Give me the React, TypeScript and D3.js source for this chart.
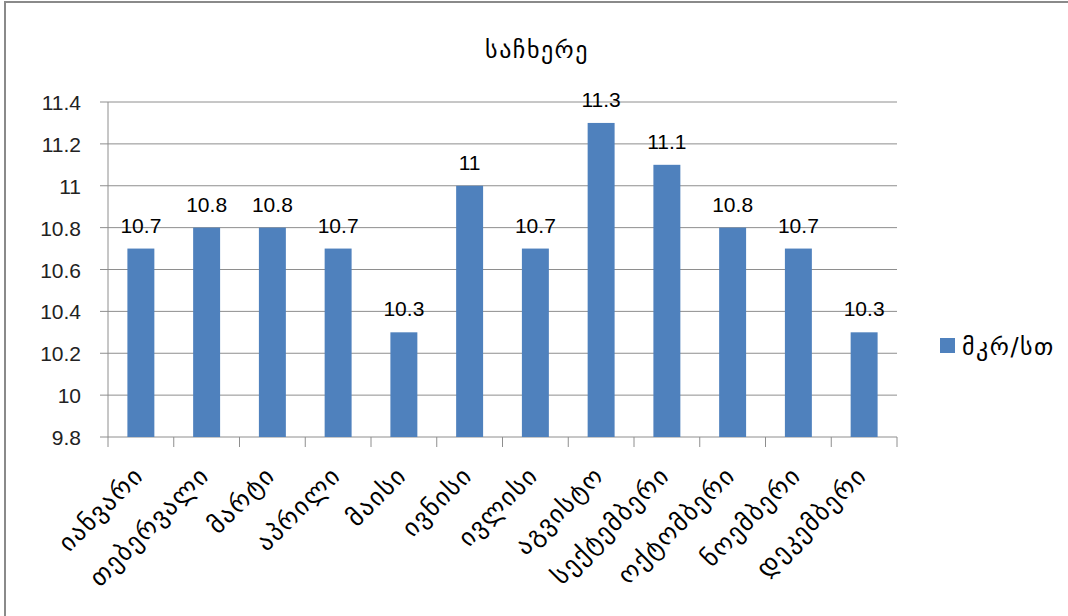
import React from "react";
import * as d3 from "d3";

const months = [
  "იანვარი",
  "თებერვალი",
  "მარტი",
  "აპრილი",
  "მაისი",
  "ივნისი",
  "ივლისი",
  "აგვისტო",
  "სექტემბერი",
  "ოქტომბერი",
  "ნოემბერი",
  "დეკემბერი",
];
const values = [10.7, 10.8, 10.8, 10.7, 10.3, 11, 10.7, 11.3, 11.1, 10.8, 10.7, 10.3];
const yTicks = [9.8, 10, 10.2, 10.4, 10.6, 10.8, 11, 11.2, 11.4];
const title = "საჩხერე";
const seriesName = "მკრ/სთ";

const W = 1068;
const H = 616;
const plot = { left: 108, right: 897, top: 102, bottom: 437 };
const barColor = "#4F81BD";
const gridColor = "#8e8e8e";
const numFont = "'Liberation Sans', Arial, sans-serif";
const geoFont = "'DejaVu Sans', sans-serif";

const App: React.FC = () => {
  const x = d3
    .scaleBand<string>()
    .domain(months)
    .range([plot.left, plot.right])
    .paddingInner(0.59)
    .paddingOuter(0.295);
  const band = d3.scaleBand<string>().domain(months).range([plot.left, plot.right]);
  const y = d3.scaleLinear().domain([9.8, 11.4]).range([plot.bottom, plot.top]);
  const fmt = (v: number) => String(+v.toFixed(1));

  return (
    <svg
      width={W}
      height={H}
      style={{ position: "absolute", left: 0, top: 0, background: "#fff" }}
    >
      <rect x={5} y={2} width={W + 20} height={H + 20} fill="#fff" stroke="#8a8a8a" strokeWidth={2} />
      <text
        x={537}
        y={58}
        textAnchor="middle"
        fontFamily={geoFont}
        fontSize={24}
        letterSpacing={1.5}
        fill="#000"
      >
        {title}
      </text>

      {/* gridlines and y axis */}
      {yTicks.map((t) => (
        <g key={t}>
          <line x1={plot.left - 8} x2={plot.right} y1={y(t)} y2={y(t)} stroke={gridColor} strokeWidth={1} />
          <text
            x={81}
            y={y(t) + 8}
            textAnchor="end"
            fontFamily={numFont}
            fontSize={21}
            fill="#222"
          >
            {fmt(t)}
          </text>
        </g>
      ))}
      <line x1={plot.left} x2={plot.left} y1={plot.top} y2={plot.bottom} stroke={gridColor} />

      {/* x axis ticks */}
      {months.map((m) => (
        <line
          key={"t" + m}
          x1={band(m)!}
          x2={band(m)!}
          y1={plot.bottom}
          y2={plot.bottom + 10}
          stroke={gridColor}
        />
      ))}
      <line x1={plot.right} x2={plot.right} y1={plot.bottom} y2={plot.bottom + 10} stroke={gridColor} />

      {/* bars */}
      {months.map((m, i) => (
        <g key={m}>
          <rect
            x={x(m)!}
            y={y(values[i])}
            width={x.bandwidth()}
            height={plot.bottom - y(values[i])}
            fill={barColor}
          />
          <text
            x={x(m)! + x.bandwidth() / 2}
            y={y(values[i]) - 16}
            textAnchor="middle"
            fontFamily={numFont}
            fontSize={21}
            fill="#000"
          >
            {fmt(values[i])}
          </text>
        </g>
      ))}

      {/* category labels */}
      {months.map((m) => {
        const cx = band(m)! + band.bandwidth() / 2 + 4;
        const cy = plot.bottom + 40;
        return (
          <text
            key={"l" + m}
            transform={`translate(${cx},${cy}) rotate(-45)`}
            textAnchor="end"
            fontFamily={geoFont}
            fontSize={25}
            letterSpacing={1.5}
            fill="#000"
          >
            {m}
          </text>
        );
      })}

      {/* legend */}
      <rect x={940} y={338} width={15} height={15} fill={barColor} />
      <text x={962} y={355} fontFamily={geoFont} fontSize={24} letterSpacing={1.5} fill="#000">
        {seriesName}
      </text>
    </svg>
  );
};

export default App;
